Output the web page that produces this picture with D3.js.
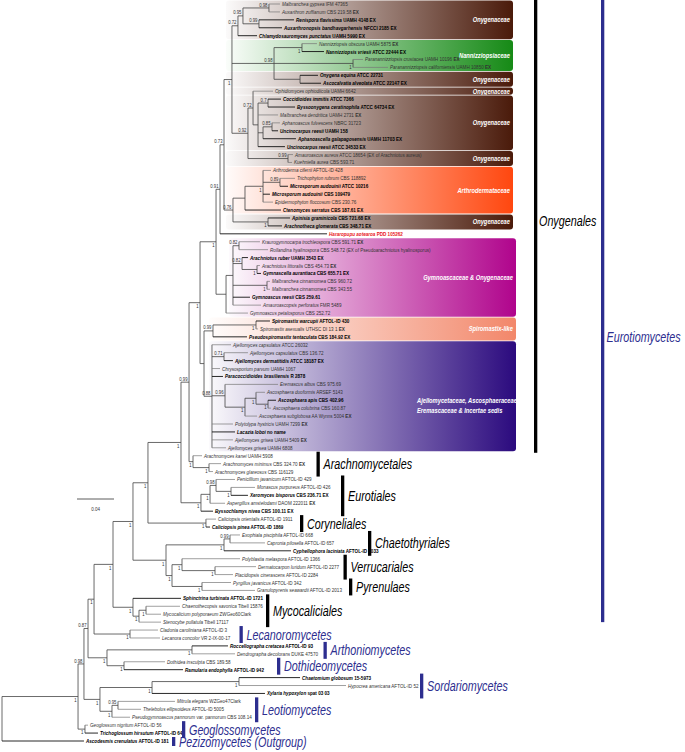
<!DOCTYPE html>
<html><head><meta charset="utf-8">
<script src="https://cdn.jsdelivr.net/npm/d3@7"></script>
<style>html,body{margin:0;padding:0;background:#fff}svg{display:block}</style>
</head><body>
<svg id="c" width="685" height="752"></svg>
<script>
// ---------------- DATA ----------------
const taxa = [
"Malbranchea gypsea IFM 47365","Auxarthron zuffianum CBS 219.58 EX","Renispora flavissima UAMH 4148 EX",
"Auxarthronopsis bandhavgarhensis NFCCI 2185 EX","Chlamydosauromyces punctatus UAMH 5990 EX",
"Nannizziopsis obscura UAMH 5875 EX","Nannizziopsis vriesii ATCC 22444 EX","Paranannizziopsis crustacea UAMH 10196 EX",
"Paranannizziopsis californiensis UAMH 10850 EX","Onygena equina ATCC 22731","Ascocalvatia alveolata ATCC 22147 EX",
"Ophidiomyces ophiodiicola UAMH 6642","Coccidioides immitis ATCC 7366","Byssoonygena ceratinophila ATCC 64734 EX",
"Malbranchea dendritica UAMH 2731 EX","Aphanoascus fulvescens NBRC 31723","Uncinocarpus reesii UAMH 158",
"Aphanoascella galapagosensis UAMH 11703 EX","Uncinocarpus reesii ATCC 34533 EX",
"Amauroascus aureus ATCC 18654 (EX of Arachniotus aureus)","Kuehniella aurea CBS 593.71",
"Arthroderma ciferrii AFTOL-ID 428","Trichophyton rubrum CBS 118892","Microsporum audouinii ATCC 10216",
"Microsporum audouinii CBS 109479","Epidermophyton floccosum CBS 230.76","Ctenomyces serratus CBS 187.61 EX",
"Apinisia graminicola CBS 721.68 EX","Arachnotheca glomerata CBS 348.71 EX","Hararopupu aotearoa PDD 105262",
"Kraurogymnocarpa trochleospora CBS 591.71 EX","Rollandina hyalinospora CBS 548.72 (EX of Pseudoarachniotus hyalinosporus)",
"Arachniotus ruber UAMH 3543 EX","Arachniotus littoralis CBS 454.73 EX","Gymnascella aurantiaca CBS 655.71 EX",
"Malbranchea cinnamomea CBS 960.72","Malbranchea cinnamomea CBS 343.55","Gymnoascus reesii CBS 259.61",
"Amauroascopsis perforatus FMR 5489","Gymnoascus petalosporus CBS 252.72","Spiromastix warcupii AFTOL-ID 430",
"Spiromastix asexualis UTHSC DI 13 1 EX","Pseudospiromastix tentaculata CBS 184.92 EX","Ajellomyces capsulatus ATCC 26032",
"Ajellomyces capsulatus CBS 136.72","Ajellomyces dermatitidis ATCC 18187 EX","Chrysosporium parvum UAMH 1067",
"Paracoccidioides brasiliensis R 2878","Eremascus albus CBS 975.69","Ascosphaera duoformis ARSEF 5143",
"Ascosphaera apis CBS 402.96","Ascosphaera colubrina CBS 160.87","Ascosphaera subglobosa AA Wynns 5004 EX",
"Polytolypa hystricis UAMH 7299 EX","Lacazia loboi no name","Ajellomyces grisea UAMH 5409 EX","Ajellomyces grisea UAMH 6808",
"Arachnomyces kanei UAMH 5908","Arachnomyces minimus CBS 324.70 EX","Arachnomyces glareosus CBS 116129",
"Penicillium javanicum AFTOL-ID 429","Monascus purpureus AFTOL-ID 426","Xeromyces bisporus CBS 236.71 EX",
"Aspergillus amstelodami DAOM 222011 EX","Byssochlamys nivea CBS 100.11 EX","Caliciopsis orientalis AFTOL-ID 1911",
"Caliciopsis pinea AFTOL-ID 1869","Exophiala pisciphila AFTOL-ID 668","Capronia pilosella AFTOL-ID 657",
"Cyphellophora laciniata AFTOL-ID 1033","Polyblastia melaspora AFTOL-ID 1366","Dermatocarpon luridum AFTOL-ID 2277",
"Placidiopsis cinerascens AFTOL-ID 2284","Pyrgillus javanicus AFTOL-ID 342","Granulopyrenis seawardii AFTOL-ID 2013",
"Sphinctrina turbinata AFTOL-ID 1721","Chaenothecopsis savonica Tibell 15876","Mycocalicium polyporaeum ZWGeo60Clark",
"Stenocybe pullatula Tibell 17117","Cladonia caroliniana AFTOL-ID 3","Lecanora concolor VR 2-IX-00-17",
"Roccellographa cretacea AFTOL-ID 93","Dendrographa decolorans DUKE 47570","Dothidea insculpta CBS 189.58",
"Ramularia endophylla AFTOL-ID 942","Chaetomium globosum 15-5973","Hypocrea americana AFTOL-ID 52",
"Xylaria hypoxylon spat 03 03","Mitrula elegans WZGeo47Clark","Thelebolus ellipsoideus AFTOL-ID 5005",
"Pseudogymnoascus pannorum var. pannorum CBS 108.14","Geoglossum nigritum AFTOL-ID 56","Trichoglossum hirsutum AFTOL-ID 64",
"Ascodesmis crenulatus AFTOL-ID 181"
];
const boldTaxa = [2,3,4,6,9,10,12,13,16,17,18,23,24,26,27,28,29,32,34,37,40,42,45,47,50,54,62,64,66,69,75,81,84,85,87,92,93];
const newTaxon = 29;
// distance from root (substitutions/site) of each tip
const tipDepth = [
0.3005,0.3005,0.3157,0.3027,0.2757,0.3405,0.3481,0.3903,0.4173,0.3416,0.3449,0.2930,0.3016,0.3168,0.2984,0.3005,0.2984,0.3178,0.3059,0.3146,
0.3135,0.2908,0.3168,0.3092,0.2897,0.2930,0.3016,0.3114,0.3027,0.3514,0.2789,0.2876,0.2659,0.2789,0.2800,0.2897,0.2897,0.2681,0.2800,0.2659,
0.2897,0.2768,0.2649,0.2476,0.2659,0.2497,0.2357,0.2389,0.2984,0.2843,0.2962,0.2908,0.2757,0.2497,0.2519,0.2497,0.2422,0.2162,0.2368,0.2281,
0.2519,0.2735,0.2659,0.2411,0.2281,0.2314,0.2249,0.2573,0.2843,0.3124,0.2573,0.2746,0.2497,0.2476,0.2735,0.1935,0.1924,0.1719,0.1719,0.1686,
0.1708,0.2443,0.2519,0.1762,0.1957,0.3222,0.3719,0.2843,0.1870,0.1503,0.1384,0.0930,0.1038,0.0886
];
// internal node: [depth, support, ...children]; a number child = tip index
const tree =
[0, "",
  [0.0822, "1",
    [0.0886, "0.98",
      [0.0930, "0.87",
        [0.0995, "1",
          [0.1200, "1",
            [0.1416, "1",
              [0.1578, "1",
                [0.1935, "1",
                  [0.2022, "0.99",
                    [0.2141, "1",
                      [0.2314, "1",
                        [0.2357, "0.91",
                          [0.2400, "0.73",
                            [0.2486, "1",
                              [0.2551, "0.72",
                                [0.2605, "0.95", [0.2886, "0.98", 0, 1], [0.2778, "0.99", 2, 3]],
                                4],
                              [0.2941, "0.98", [0.3243, "1", 5, 6], [0.3795, "1", 7, 8], [0.3222, "", 9, 10]],
                              [0.2659, "0.92",
                                [0.2714, "0.72", 11,
                                  [0.2768, "", [0.2876, "0.7", 12, 13], 14,
                                    [0.2822, "", [0.2919, "0.85", 15, 16], 17], 18]],
                                [0.3092, "0.99", 19, 20]]],
                            [0.2497, "0.76",
                              [0.2627, "", [0.2822, "1", 21, [0.3005, "0.89", 22, 23], 24, 25], 26],
                              [0.2876, "1", 27, 28]]],
                          29],
                        [0.2422, "",
                          [0.2497, "",
                            [0.2562, "0.82", 30, 31],
                            [0.2595, "0.82", 32, [0.2757, "1", 33, 34]],
                            [0.2865, "1", 35, 36],
                            37, 38],
                          39]],
                      [0.2184, "",
                        [0.2281, "0.99", [0.2746, "1", 40, 41], 42],
                        [0.2270, "0.88", 43, [0.2400, "0.71", 44, 45], 46, 47,
                          [0.2411, "0.96", 48, [0.2627, "1", [0.2746, "1", 49, [0.2876, "1", 50, 51]], 52]],
                          53, 54, 55, 56]]],
                    [0.2065, "1", 57, [0.2238, "1", 58, 59]]],
                  [0.2151, "1", [0.2249, "1", [0.2314, "0.98", 60, [0.2476, "1", 61, 62]], 63], 64]],
                [0.2205, "1", 65, 66]],
              [0.1773, "1",
                [0.2400, "1", [0.2465, "0.99", 67, 68], 69],
                [0.1838, "1", [0.1946, "1", 70, [0.2303, "1", 71, 72]], [0.2162, "1", 73, 74]]]],
            [0.1416, "1", 75, [0.1481, "1", [0.1557, "1", 76, 77], 78]]],
          [0.1384, "1", 79, 80]],
        [0.1135, "1", [0.2054, "1", 81, 82], [0.1319, "1", 83, 84]]],
      [0.1059, "1", [0.1622, "1", [0.2562, "1", 85, 86], 87], [0.1189, "1", [0.1254, "0.95", 88, 89], 90]]],
    [0.0897, "1", 91, 92]],
  93];
const familyNames = ["Onygenaceae","Nannizziopsiaceae","Onygenaceae","Onygenaceae","Onygenaceae","Onygenaceae",
  "Arthrodermataceae","Onygenaceae","Gymnoascaceae & Onygenaceae","Spiromastix-like",
  "Ajellomycetaceae, Ascosphaeraceae, Eremascaceae & Incertae sedis"];
const familyFrom = [0,5,9,11,12,19,21,27,30,40,43];
const familyTo   = [4,8,10,11,18,20,26,28,39,42,56];
const groupNames = ["Onygenales","Eurotiomycetes","Arachnomycetales","Eurotiales","Coryneliales","Chaetothyriales",
  "Verrucariales","Pyrenulaes","Mycocaliciales","Lecanoromycetes","Arthoniomycetes","Dothideomycetes",
  "Sordariomycetes","Leotiomycetes","Geoglossomycetes","Pezizomycetes (Outgroup)"];
const groupRank = ["order","class","order","order","order","order","order","order","order",
  "class","class","class","class","class","class","class"];
const groupFrom = [0,0,57,60,65,67,70,73,75,79,81,83,85,88,91,93];
const groupTo   = [56,78,59,64,66,69,72,74,78,80,82,84,87,90,92,93];
const scaleBarValue = 0.04;

// ---------------- DRAW ----------------
const svg = d3.select("#c");
const FONT = "'Liberation Sans Narrow','Arial Narrow','Liberation Sans',Arial,sans-serif";
const x = d3.scaleLinear().domain([0, 0.5]).range([2, 464.5]);
const y = d3.scaleLinear().domain([0, taxa.length - 1]).range([4, 741]);
const step = y(1) - y(0);

// condensed text helper
function ntext(parent, tx, ty, size, sx = 0.82) {
  return parent.append("text").attr("transform", `translate(${tx},${ty}) scale(${sx},1)`)
    .attr("x",0).attr("y",0).attr("font-family",FONT).attr("font-size",size);
}

const famColor = {"Onygenaceae":"#4a1a0a","Nannizziopsiaceae":"#168a16","Arthrodermataceae":"#ff470f",
  "Gymnoascaceae & Onygenaceae":"#b0048c","Spiromastix-like":"#f2876a"};
const ajelloColor = "#2b0a7e";
const defs = svg.append("defs");

familyNames.forEach((nm, i) => {
  const col = famColor[nm] || ajelloColor;
  const f = familyFrom[i], t = familyTo[i];
  const left = f <= 28 ? 226 : (f === 30 ? 229 : 209);
  const right = f <= 28 ? 513 : 516;
  const g = defs.append("linearGradient").attr("id","gr"+i).attr("gradientUnits","userSpaceOnUse")
    .attr("x1",left).attr("x2",right).attr("y1",0).attr("y2",0);
  g.append("stop").attr("offset",0).attr("stop-color", d3.interpolateRgb("#ffffff", col)(0.02));
  g.append("stop").attr("offset",1).attr("stop-color", col);
  const y0 = y(f) - step/2 + 0.4, y1 = y(t) + step/2 - 0.4;
  svg.append("rect").attr("x",left).attr("y",y0).attr("width",right-left).attr("height",y1-y0)
    .attr("rx",3).attr("fill","url(#gr"+i+")");
  if (nm.startsWith("Ajello")) {
    [["Ajellomycetaceae, Ascosphaeraceae,",403],["Eremascaceae & Incertae sedis",413]].forEach(([s,ly]) =>
      ntext(svg, 417, ly, 7).attr("fill","#fff").attr("font-style","italic").attr("font-weight","bold").text(s));
  } else {
    ntext(svg, right - 3, (y0 + y1)/2 + 2.4, 7).attr("fill","#fff").attr("font-style","italic")
      .attr("font-weight","bold").attr("text-anchor","end").text(nm);
  }
});

// hierarchy
function build(a) {
  if (typeof a === "number") return {leaf: a, d: tipDepth[a]};
  const [d, s, ...c] = a;
  return {d, s, children: c.map(build)};
}
const root = d3.hierarchy(build(tree), n => n.children);
root.eachAfter(n => {
  n.px = x(n.data.d);
  n.py = n.children ? (n.children[0].py + n.children[n.children.length-1].py)/2 : y(n.data.leaf);
});
const isBold = new Set(boldTaxa);
const gT = svg.append("g");
root.each(n => {
  if (n.children) {
    gT.append("line").attr("x1",n.px).attr("x2",n.px)
      .attr("y1",n.children[0].py).attr("y2",n.children[n.children.length-1].py)
      .attr("stroke","#444").attr("stroke-width",0.8);
  }
  if (n.parent) {
    const leafBold = !n.children && isBold.has(n.data.leaf);
    gT.append("line").attr("x1",n.parent.px).attr("x2",n.px).attr("y1",n.py).attr("y2",n.py)
      .attr("stroke", n.children ? "#444" : (leafBold ? "#111" : "#777"))
      .attr("stroke-width", n.children ? 0.8 : (leafBold ? 0.9 : 0.7));
  }
});
// support values
root.each(n => {
  if (!n.children || !n.data.s) return;
  const one = n.data.s === "1";
  ntext(gT, n.px - 1.5, one ? n.py + 5.3 : n.py - 1.4, 5.2)
    .attr("text-anchor","end").attr("fill","#333").text(n.data.s);
});
// tip labels
root.leaves().forEach(n => {
  const i = n.data.leaf, nm = taxa[i];
  const b = isBold.has(i);
  const t = ntext(gT, n.px + 2, n.py + 2, 5.6)
    .attr("font-weight", b ? "bold" : "normal")
    .attr("fill", i === newTaxon ? "#e8141b" : (b ? "#000" : "#333"));
  let ital, rest;
  const v = nm.indexOf(" var. ");
  if (v > 0) { ital = nm.slice(0, v); rest = nm.slice(v); }
  else { const w = nm.split(" "); ital = w.slice(0,2).join(" "); rest = w.slice(2).join(" "); }
  t.append("tspan").attr("font-style","italic").text(ital);
  let ex = false;
  if (rest.endsWith(" EX")) { rest = rest.slice(0,-3); ex = true; }
  if (rest) t.append("tspan").text(" " + rest);
  if (ex) t.append("tspan").attr("font-weight","bold").text(" EX");
});

// group bars
const barX = {"Onygenales":534,"Eurotiomycetes":601,"Arachnomycetales":316.5,"Eurotiales":341,"Coryneliales":300,
  "Chaetothyriales":368,"Verrucariales":343.5,"Pyrenulaes":349,"Mycocaliciales":266,"Lecanoromycetes":239.5,
  "Arthoniomycetes":323.5,"Dothideomycetes":277,"Sordariomycetes":420,"Leotiomycetes":255,
  "Geoglossomycetes":182,"Pezizomycetes (Outgroup)":172};
const textDY = {"Onygenales":221,"Eurotiomycetes":337};
groupNames.forEach((nm, i) => {
  const col = groupRank[i] === "class" ? "#2d2e8f" : "#000";
  let y0 = y(groupFrom[i]) - 4, y1 = y(groupTo[i]) + 5;
  if (nm === "Eurotiomycetes") y1 = y(groupTo[i]);
  const bx = barX[nm];
  svg.append("rect").attr("x",bx).attr("y",y0).attr("width",3.3).attr("height",y1-y0).attr("fill",col);
  const cy = textDY[nm] !== undefined ? textDY[nm] : (y0+y1)/2;
  const gap = nm === "Onygenales" ? 5 : (nm === "Eurotiomycetes" ? 5.5 : 7);
  ntext(svg, bx + gap, cy + 5, 14, 0.77)
    .attr("font-style","italic").attr("fill",col).text(nm);
});

// scale bar
const sbx = 77, sby = 499;
svg.append("line").attr("x1",sbx).attr("x2",sbx + x(scaleBarValue) - x(0)).attr("y1",sby).attr("y2",sby)
  .attr("stroke","#333").attr("stroke-width",0.8);
ntext(svg, sbx + (x(scaleBarValue)-x(0))/2, sby + 12, 5.5).attr("text-anchor","middle")
  .attr("fill","#333").text(scaleBarValue);
</script>
</body></html>
